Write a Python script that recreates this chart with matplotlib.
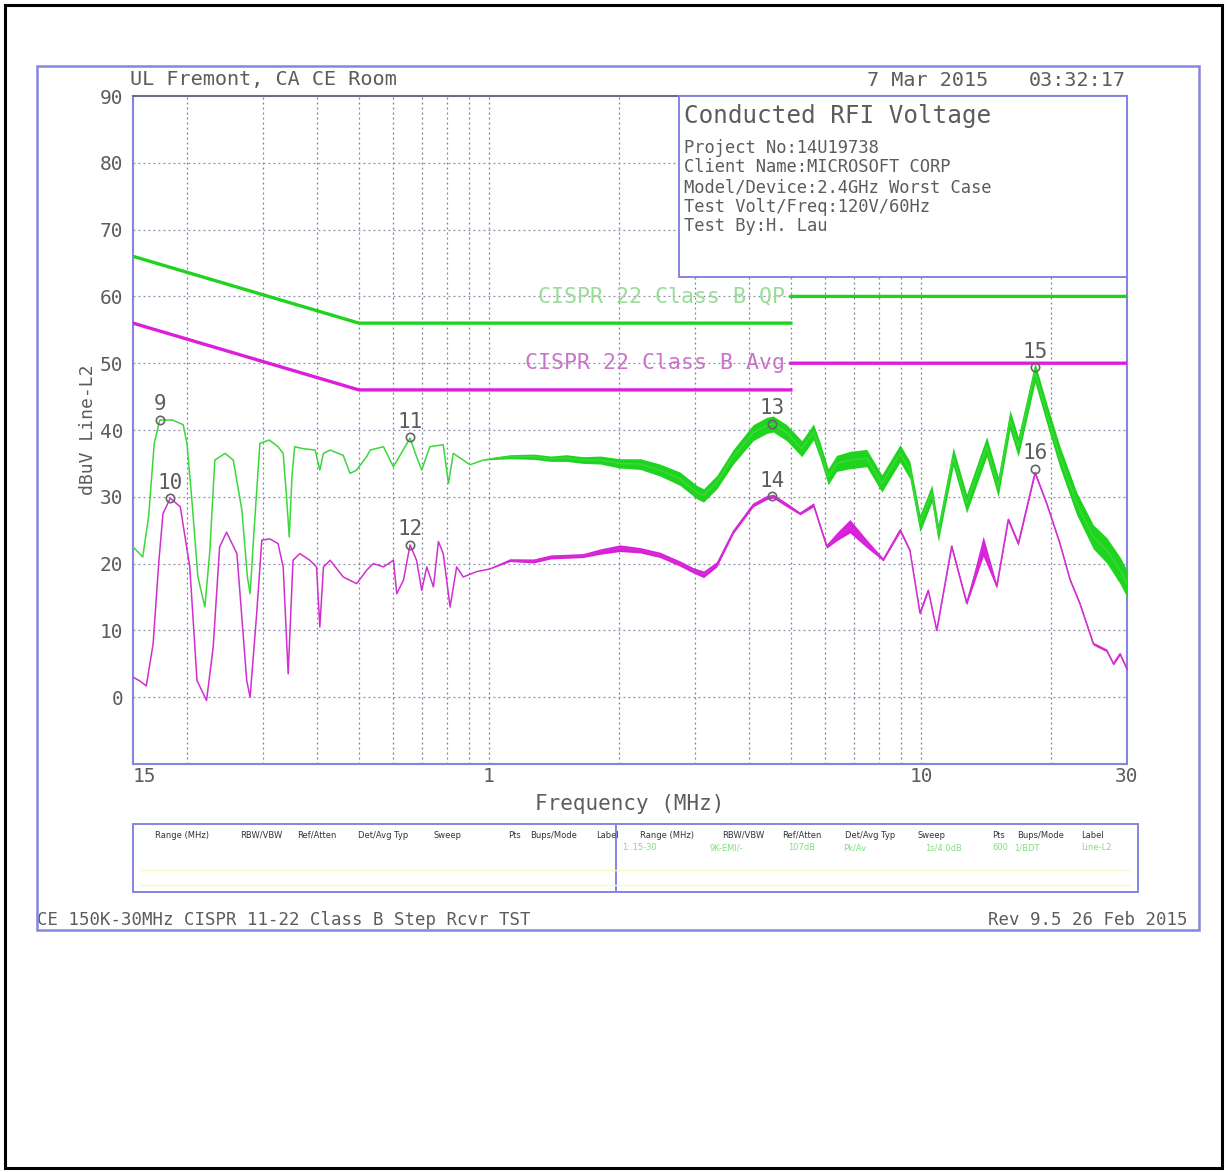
import matplotlib
matplotlib.use("Agg")
import matplotlib.pyplot as plt
from matplotlib.patches import Rectangle
from matplotlib.lines import Line2D
import numpy as np

# ---------------------------------------------------------------- data
# Peak (green) trace: frequency in MHz, level in dBuV, noise spread (+/- dB)
qp_freq = [0.150, 0.158, 0.163, 0.168, 0.173, 0.185, 0.196, 0.200, 0.205, 0.212,
           0.220, 0.226, 0.232, 0.245, 0.256, 0.268, 0.276, 0.280, 0.286, 0.295,
           0.310, 0.325, 0.334, 0.340, 0.345, 0.350, 0.355, 0.372, 0.396, 0.406,
           0.414, 0.429, 0.460, 0.477, 0.494, 0.521, 0.531, 0.570, 0.601, 0.620,
           0.657, 0.680, 0.699, 0.730, 0.784, 0.806, 0.827, 0.872, 0.904, 0.970,
           1.04, 1.12, 1.27, 1.39, 1.51, 1.65, 1.81, 2.01, 2.24, 2.49,
           2.77, 3.03, 3.14, 3.37, 3.68, 4.09, 4.40, 4.55, 4.89, 5.30,
           5.64, 5.84, 6.10, 6.38, 6.85, 7.49, 8.12, 8.95, 9.43, 9.95,
           10.6, 10.97, 11.88, 12.76, 14.2, 15.1, 16.08, 16.8, 18.37, 19.55,
           20.98, 22.94, 25.07, 26.92, 28.9, 30.0]
qp_level = [22.5, 21.0, 27.0, 38.0, 41.5, 41.5, 40.8, 38.0, 30.0, 18.0,
            13.5, 22.0, 35.5, 36.5, 35.5, 28.0, 18.0, 15.5, 25.0, 38.0,
            38.5, 37.5, 36.5, 30.0, 24.0, 33.0, 37.5, 37.2, 37.0, 34.0,
            36.5, 37.0, 36.2, 33.5, 34.0, 36.0, 37.0, 37.5, 34.5, 36.0,
            38.8, 36.0, 34.0, 37.5, 37.8, 32.0, 36.5, 35.5, 34.8, 35.5,
            35.8, 36.0, 36.0, 35.7, 35.8, 35.5, 35.5, 35.0, 34.9, 34.0,
            32.7, 30.7, 30.2, 32.2, 36.0, 39.6, 40.7, 40.9, 39.6, 37.2,
            39.7, 37.0, 33.0, 35.0, 35.5, 35.8, 32.0, 36.5, 34.0, 26.0,
            30.5, 24.6, 36.0, 29.0, 37.5, 31.5, 41.5, 37.5, 48.6, 42.5,
            36.0, 29.0, 24.0, 22.0, 19.0, 17.0]
qp_spread = [0.0] * 50 + [0.2, 0.3, 0.4, 0.4, 0.5, 0.5, 0.6, 0.7, 0.8, 0.9,
                          1.0, 1.0, 1.0, 1.0, 1.1, 1.2, 1.2, 1.2, 1.2, 1.2,
                          1.2, 1.2, 1.2, 1.2, 1.3, 1.3, 1.3, 1.3, 1.3, 1.3,
                          1.3, 1.3, 1.4, 1.4, 1.5, 1.5, 1.5, 1.5, 1.5, 1.5,
                          1.6, 1.7, 1.8, 1.9, 2.0, 2.0]

# Average (magenta) trace
av_freq = [0.150, 0.155, 0.161, 0.167, 0.172, 0.176, 0.183, 0.193, 0.203, 0.211,
           0.222, 0.230, 0.238, 0.247, 0.261, 0.275, 0.280, 0.290, 0.298, 0.311,
           0.325, 0.334, 0.343, 0.352, 0.365, 0.385, 0.399, 0.406, 0.414, 0.429,
           0.460, 0.494, 0.521, 0.540, 0.570, 0.601, 0.612, 0.634, 0.657, 0.680,
           0.699, 0.718, 0.744, 0.764, 0.784, 0.813, 0.842, 0.872, 0.937, 1.006,
           1.119, 1.27, 1.39, 1.65, 1.81, 2.01, 2.24, 2.49, 2.77, 2.97,
           3.14, 3.37, 3.68, 4.09, 4.40, 4.55, 4.89, 5.25, 5.64, 6.05,
           6.38, 6.85, 7.49, 8.18, 8.95, 9.43, 9.95, 10.40, 10.88, 11.78,
           12.76, 13.94, 14.98, 15.93, 16.80, 18.37, 19.55, 20.98, 22.14, 23.34,
           25.07, 26.92, 27.9, 28.9, 30.0]
av_level = [3.0, 2.5, 1.7, 8.0, 20.0, 27.5, 29.8, 28.5, 19.5, 2.5,
            -0.5, 7.5, 22.5, 24.7, 21.5, 2.5, 0.0, 12.5, 23.5, 23.7,
            23.0, 19.5, 3.5, 20.5, 21.5, 20.5, 19.5, 10.5, 19.5, 20.5,
            18.0, 17.0, 19.0, 20.0, 19.5, 20.5, 15.5, 17.5, 22.8, 20.5,
            16.0, 19.5, 16.5, 23.3, 21.5, 13.5, 19.5, 18.0, 18.8, 19.2,
            20.5, 20.4, 21.0, 21.2, 21.8, 22.3, 22.0, 21.3, 20.0, 19.0,
            18.4, 19.9, 24.8, 28.8, 29.9, 30.1, 28.8, 27.5, 28.8, 22.6,
            24.0, 25.6, 23.0, 20.6, 25.0, 22.0, 12.6, 16.0, 10.0, 22.6,
            14.1, 22.6, 16.6, 26.6, 23.0, 33.6, 29.0, 23.0, 17.6, 14.0,
            8.0, 7.0, 5.0, 6.5, 4.2]
av_spread = [0.0] * 50 + [0.2, 0.3, 0.3, 0.3, 0.4, 0.5, 0.4, 0.4, 0.4, 0.4,
                          0.5, 0.4, 0.3, 0.3, 0.3, 0.3, 0.3, 0.2, 0.3, 0.3,
                          0.6, 1.0, 0.6, 0.2, 0.3, 0.2, 0.2, 0.2, 0.2, 0.3,
                          0.3, 1.5, 0.3, 0.3, 0.3, 0.3, 0.2, 0.2, 0.2, 0.2,
                          0.2, 0.2, 0.2, 0.2, 0.2]

# Limit lines (CISPR 22 Class B)
qp_limit_freq = [0.15, 0.5, 5.0, np.nan, 5.0, 30.0]
qp_limit_level = [66, 56, 56, np.nan, 60, 60]
av_limit_freq = [0.15, 0.5, 5.0, np.nan, 5.0, 30.0]
av_limit_level = [56, 46, 46, np.nan, 50, 50]

# Marker readouts: id, frequency, level
marker_ids = [9, 10, 11, 12, 13, 14, 15, 16]
marker_freq = [0.173, 0.183, 0.657, 0.657, 4.53, 4.53, 18.37, 18.37]
marker_level = [41.5, 29.8, 38.9, 22.8, 40.9, 30.1, 49.4, 34.2]

y_ticks = [0, 10, 20, 30, 40, 50, 60, 70, 80, 90]
x_ticks = [0.15, 1, 10, 30]
x_tick_labels = ["15", "1", "10", "30"]
grid_freqs = [0.2, 0.3, 0.4, 0.5, 0.6, 0.7, 0.8, 0.9, 1, 2, 3, 4, 5, 6, 7, 8, 9, 10, 20]

info_title = "Conducted RFI Voltage"
info_lines = ["Project No:14U19738",
              "Client Name:MICROSOFT CORP",
              "Model/Device:2.4GHz Worst Case",
              "Test Volt/Freq:120V/60Hz",
              "Test By:H. Lau"]

table_headers = ["Range (MHz)", "RBW/VBW", "Ref/Atten", "Det/Avg Typ",
                 "Sweep", "Pts", "Bups/Mode", "Label"]
table_row = ["1:.15-30", "9K-EMI/-", "107dB", "Pk/Av",
             "1s/4.0dB", "600", "1/BDT", "Line-L2"]

# ---------------------------------------------------------------- figure
W, H = 1227, 1172
fig = plt.figure(figsize=(W / 100, H / 100), dpi=100)
fig.patch.set_facecolor("white")


def fx(x):
    return x / W


def fy(y):
    return 1 - y / H


FONT = "DejaVu Sans Mono"
TXT = "#5c5c5c"
FRAME = "#8585e0"
GREEN = "#1fd41f"
MAGENTA = "#dc1edc"

ax = fig.add_axes([fx(133), fy(764), fx(1127) - fx(133), fy(96) - fy(764)])
ax.set_xscale("log")
ax.set_xlim(0.15, 30)
ax.set_ylim(-10, 90)
ax.set_facecolor("white")

# dotted grid
for f in grid_freqs:
    ax.axvline(f, color="#7c7c9a", lw=0.9, ls=(0, (1.5, 2.5)), zorder=1)
for y in y_ticks[:-1]:
    ax.axhline(y, color="#8c8cae", lw=0.9, ls=(0, (1.5, 2.5)), zorder=1)

# limits
ax.plot(qp_limit_freq, qp_limit_level, color=GREEN, lw=2.4, zorder=3)
ax.plot(av_limit_freq, av_limit_level, color=MAGENTA, lw=2.4, zorder=3)
ax.text(4.85, 60, "CISPR 22 Class B QP", color="#98dc98", fontsize=15.5,
        family=FONT, ha="right", va="center", zorder=2)
ax.text(4.85, 50, "CISPR 22 Class B Avg", color="#c874c8", fontsize=15.5,
        family=FONT, ha="right", va="center", zorder=2)

# measured traces with their noise envelope
qf, ql, qs = np.array(qp_freq), np.array(qp_level), np.array(qp_spread)
af, al, asp = np.array(av_freq), np.array(av_level), np.array(av_spread)
ax.fill_between(qf, ql - qs, ql + qs, color=GREEN, lw=0, zorder=4)
ax.plot(qf, ql, color="#3ad83a", lw=1.1, zorder=4)
ax.fill_between(af, al - asp, al + asp, color=MAGENTA, lw=0, zorder=4)
ax.plot(af, al, color="#d030d0", lw=1.1, zorder=4)

# markers
ax.plot(marker_freq, marker_level, ls="none", marker="o", ms=6, mfc="none",
        mec="#666666", mew=1.2, zorder=6)
for mid, f, lv in zip(marker_ids, marker_freq, marker_level):
    ax.annotate(str(mid), (f, lv), xytext=(0, 4), textcoords="offset points",
                ha="center", va="bottom", fontsize=15, family=FONT, color=TXT,
                zorder=7)

# axes styling
for side in ["left", "bottom", "right"]:
    ax.spines[side].set_color(FRAME)
    ax.spines[side].set_linewidth(1.5)
ax.spines["top"].set_color("#6c6c88")
ax.spines["top"].set_linewidth(1.5)
ax.set_yticks(y_ticks)
ax.set_yticklabels([str(v) for v in y_ticks])
ax.set_xticks(x_ticks)
ax.set_xticklabels(x_tick_labels)
ax.xaxis.set_minor_locator(matplotlib.ticker.NullLocator())
ax.tick_params(axis="y", length=0, labelsize=14, labelcolor=TXT, pad=7)
ax.tick_params(axis="x", length=0, labelsize=14, labelcolor=TXT, pad=2)
for lab in ax.get_xticklabels() + ax.get_yticklabels():
    lab.set_family(FONT)
ax.get_xticklabels()[0].set_ha("left")
ax.set_xlabel("Frequency (MHz)", fontsize=15, family=FONT, color=TXT, labelpad=6)
ax.set_ylabel("dBuV Line-L2", fontsize=13, family=FONT, color=TXT, labelpad=2)

# header
fig.text(fx(130), fy(80), "UL Fremont, CA CE Room", fontsize=14.5, family=FONT,
         color=TXT, ha="left", va="center")
fig.text(fx(988), fy(80), "7 Mar 2015", fontsize=14.5, family=FONT,
         color=TXT, ha="right", va="center")
fig.text(fx(1126), fy(80), "03:32:17", fontsize=14.5, family=FONT,
         color=TXT, ha="right", va="center")

# information box
fig.patches.append(Rectangle((fx(679), fy(277)), fx(1127) - fx(679), fy(96) - fy(277),
                             transform=fig.transFigure, facecolor="white",
                             edgecolor=FRAME, lw=1.4, zorder=5))
fig.text(fx(684), fy(116), info_title, fontsize=17.5, family=FONT, color=TXT,
         ha="left", va="center", zorder=6)
for i, line in enumerate(info_lines):
    fig.text(fx(684), fy(148 + 19.5 * i), line, fontsize=12.3, family=FONT,
             color=TXT, ha="left", va="center", zorder=6)

# settings table
fig.patches.append(Rectangle((fx(133), fy(892)), fx(1138) - fx(133), fy(824) - fy(892),
                             transform=fig.transFigure, facecolor="white",
                             edgecolor=FRAME, lw=1.4, zorder=5))
fig.lines.append(Line2D([fx(616), fx(616)], [fy(824), fy(892)],
                        transform=fig.transFigure, color=FRAME, lw=1.4, zorder=6))
for yy in (870, 885):
    fig.lines.append(Line2D([fx(140), fx(1130)], [fy(yy), fy(yy)],
                            transform=fig.transFigure, color="#f6f6c8", lw=1.0, zorder=6))
left_cols = [155, 240, 297, 358, 433, 508, 530, 596]
right_cols = [640, 722, 782, 845, 918, 992, 1017, 1081]
row_cols = [622, 710, 788, 843, 925, 992, 1014, 1081]
for x0, lab in zip(left_cols, table_headers):
    fig.text(fx(x0), fy(835), lab, fontsize=6, family="DejaVu Sans", color="#333333",
             ha="left", va="center", zorder=7)
for x0, lab in zip(right_cols, table_headers):
    fig.text(fx(x0), fy(835), lab, fontsize=6, family="DejaVu Sans", color="#333333",
             ha="left", va="center", zorder=7)
for x0, lab in zip(row_cols, table_row):
    fig.text(fx(x0), fy(848), lab, fontsize=6, family="DejaVu Sans", color="#7ee07e",
             ha="left", va="center", zorder=7)

# footer
fig.text(fx(37), fy(920), "CE 150K-30MHz CISPR 11-22 Class B Step Rcvr TST",
         fontsize=12.5, family=FONT, color=TXT, ha="left", va="center")
fig.text(fx(1188), fy(920), "Rev 9.5 26 Feb 2015", fontsize=12.5, family=FONT,
         color=TXT, ha="right", va="center")

# plot frame and page border
fig.patches.append(Rectangle((fx(37), fy(930)), fx(1199) - fx(37), fy(66) - fy(930),
                             transform=fig.transFigure, facecolor="none",
                             edgecolor=FRAME, lw=1.8, zorder=8))
fig.patches.append(Rectangle((fx(5), fy(1168)), fx(1222) - fx(5), fy(5) - fy(1168),
                             transform=fig.transFigure, facecolor="none",
                             edgecolor="black", lw=2.2, zorder=8))

fig.savefig("out.png", dpi=100, facecolor="white")
